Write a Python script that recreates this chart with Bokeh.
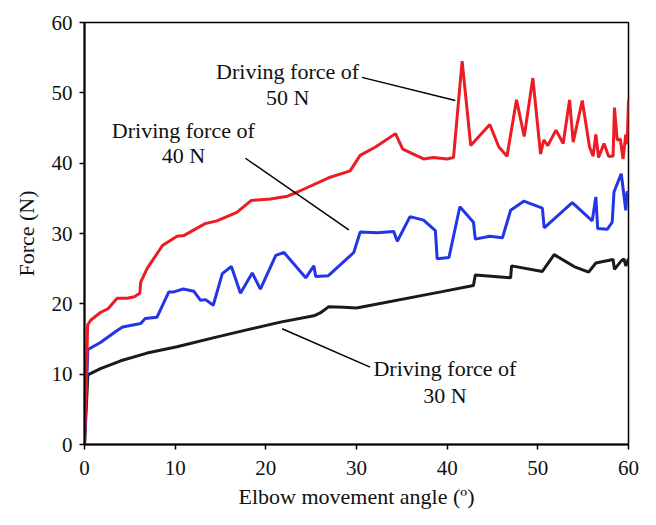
from bokeh.plotting import figure
from bokeh.models import Range1d, Label, FixedTicker
from bokeh.embed import file_html
from bokeh.resources import INLINE

# ---- data ----
x_50 = [0, 0.35, 0.7, 1.8, 2.6, 3.6, 4.7, 5.5, 6.1, 6.2, 6.9, 8.6, 10.2, 10.95, 13.3, 14.6, 16.8,
        18.4, 20.5, 22.4, 23.5, 27.1, 29.3, 30.4, 32.1, 34.3, 35.1, 37.4, 38.5, 40.0, 40.7, 41.65,
        42.6, 44.7, 45.7, 46.6, 47.65, 48.5, 49.45, 50.3, 50.65, 51.1, 52.0, 52.8, 53.5, 53.9,
        54.9, 55.7, 56.1, 56.4, 56.7, 57.3, 57.8, 58.3, 58.45, 58.75, 59.1, 59.4, 59.7, 59.85, 60.0]
y_50 = [0, 17.0, 17.7, 18.8, 19.3, 20.8, 20.8, 21.0, 21.5, 23.1, 25.0, 28.3, 29.6, 29.7, 31.4, 31.8, 33.0,
        34.7, 34.9, 35.3, 35.9, 38.0, 38.9, 41.1, 42.3, 44.2, 42.0, 40.6, 40.8, 40.6, 40.8, 54.5,
        42.5, 45.5, 42.3, 41.0, 49.0, 43.8, 52.1, 41.3, 43.3, 42.5, 44.7, 42.8, 49.0, 43.0,
        48.9, 42.3, 41.0, 44.1, 40.8, 42.8, 41.0, 41.0, 47.9, 43.3, 43.4, 40.6, 44.1, 42.7, 49.0]

x_40 = [0, 0.37, 1.76, 3.6, 4.2, 6.2, 6.7, 8.0, 9.3, 9.85, 10.9, 12.05, 12.8, 13.35, 14.2, 15.2,
        16.2, 17.2, 18.5, 19.4, 21.1, 22.0, 24.4, 25.3, 25.5, 26.9, 29.7, 30.4, 32.3, 34.1, 34.5,
        35.9, 37.4, 38.7, 38.9, 40.2, 41.4, 42.9, 43.1, 44.7, 46.1, 47.0, 48.45, 50.5, 50.7, 53.8,
        56.0, 56.4, 56.6, 57.65, 58.2, 58.4, 59.2, 59.7, 59.85, 60.0]
y_40 = [0, 13.5, 14.5, 16.2, 16.7, 17.2, 17.9, 18.1, 21.7, 21.7, 22.1, 21.8, 20.5, 20.6, 19.8, 24.3,
        25.3, 21.5, 24.4, 22.1, 26.9, 27.3, 23.7, 25.4, 23.9, 24.0, 27.3, 30.2, 30.1, 30.3, 28.9,
        32.4, 31.9, 30.4, 26.4, 26.6, 33.8, 31.6, 29.2, 29.6, 29.4, 33.3, 34.6, 33.6, 30.8, 34.4,
        31.8, 35.2, 30.7, 30.6, 31.6, 35.9, 38.5, 33.3, 36.0, 35.5]

x_30 = [0, 0.37, 1.76, 4.0, 6.9, 10.2, 14.3, 17.9, 21.6, 25.3, 26.0, 26.95, 28.6, 30.0, 39.3, 42.9,
        43.1, 47.0, 47.1, 50.5, 51.8, 54.0, 55.6, 56.4, 58.3, 58.45, 59.2, 59.5, 59.7, 60.0]
y_30 = [0, 9.9, 10.8, 11.9, 13.0, 13.9, 15.2, 16.3, 17.4, 18.3, 18.7, 19.6, 19.5, 19.4, 21.7, 22.6,
        24.1, 23.7, 25.4, 24.6, 27.0, 25.3, 24.5, 25.8, 26.3, 24.9, 26.1, 26.4, 25.4, 26.4]

ticks = [0, 10, 20, 30, 40, 50, 60]

# annotation texts and leader lines (data units)
ann_lines = [("Driving force of", "50 N"), ("Driving force of", "40 N"), ("Driving force of", "30 N")]
ann_x = [22.4, 10.9, 39.75]
ann_y1 = [53.0, 44.7, 10.75]
ann_y2 = [49.3, 41.1, 6.97]
lead_x0 = [30.6, 17.75, 21.8]
lead_y0 = [52.2, 40.7, 16.45]
lead_x1 = [40.9, 29.15, 31.5]
lead_y1 = [48.9, 30.5, 11.0]

FONT = "Liberation Serif"

p = figure(width=648, height=517, output_backend="svg", toolbar_location=None,
           x_range=Range1d(0, 60), y_range=Range1d(0, 60),
           min_border_left=84, min_border_right=20, min_border_top=22, min_border_bottom=73)
p.background_fill_color = "white"
p.border_fill_color = "white"
p.grid.visible = False
p.outline_line_color = "black"
p.outline_line_width = 1.5

for ax in (p.xaxis[0], p.yaxis[0]):
    ax.ticker = FixedTicker(ticks=ticks)
    ax.minor_tick_line_color = None
    ax.major_tick_in = 0
    ax.major_tick_out = 5
    ax.major_tick_line_width = 1.5
    ax.axis_line_width = 2
    ax.axis_line_color = "black"
    ax.major_label_text_font = FONT
    ax.major_label_text_font_size = "21px"
    ax.major_label_text_color = "#111111"
    ax.axis_label_text_font = FONT
    ax.axis_label_text_font_size = "22px"
    ax.axis_label_text_font_style = "normal"
    ax.axis_label_text_color = "#111111"

p.xaxis.axis_label = "Elbow movement angle (º)"
p.yaxis.axis_label = "Force (N)"
p.xaxis.major_label_standoff = 11
p.yaxis.major_label_standoff = 7
p.xaxis.axis_label_standoff = 6
p.yaxis.axis_label_standoff = 10

p.line(x_30, y_30, line_color="#1a1a1a", line_width=3)
p.line(x_40, y_40, line_color="#2336e6", line_width=3)
p.line(x_50, y_50, line_color="#ec1c24", line_width=3)

p.segment(x0=lead_x0, y0=lead_y0, x1=lead_x1, y1=lead_y1, line_color="black", line_width=1.5)

for (l1, l2), ax_, y1, y2 in zip(ann_lines, ann_x, ann_y1, ann_y2):
    for txt, yy in ((l1, y1), (l2, y2)):
        p.add_layout(Label(x=ax_, y=yy, text=txt, text_align="center", text_baseline="alphabetic",
                           text_font=FONT, text_font_size="22px", text_color="#111111"))

open("out.html", "w").write(file_html(p, INLINE))
